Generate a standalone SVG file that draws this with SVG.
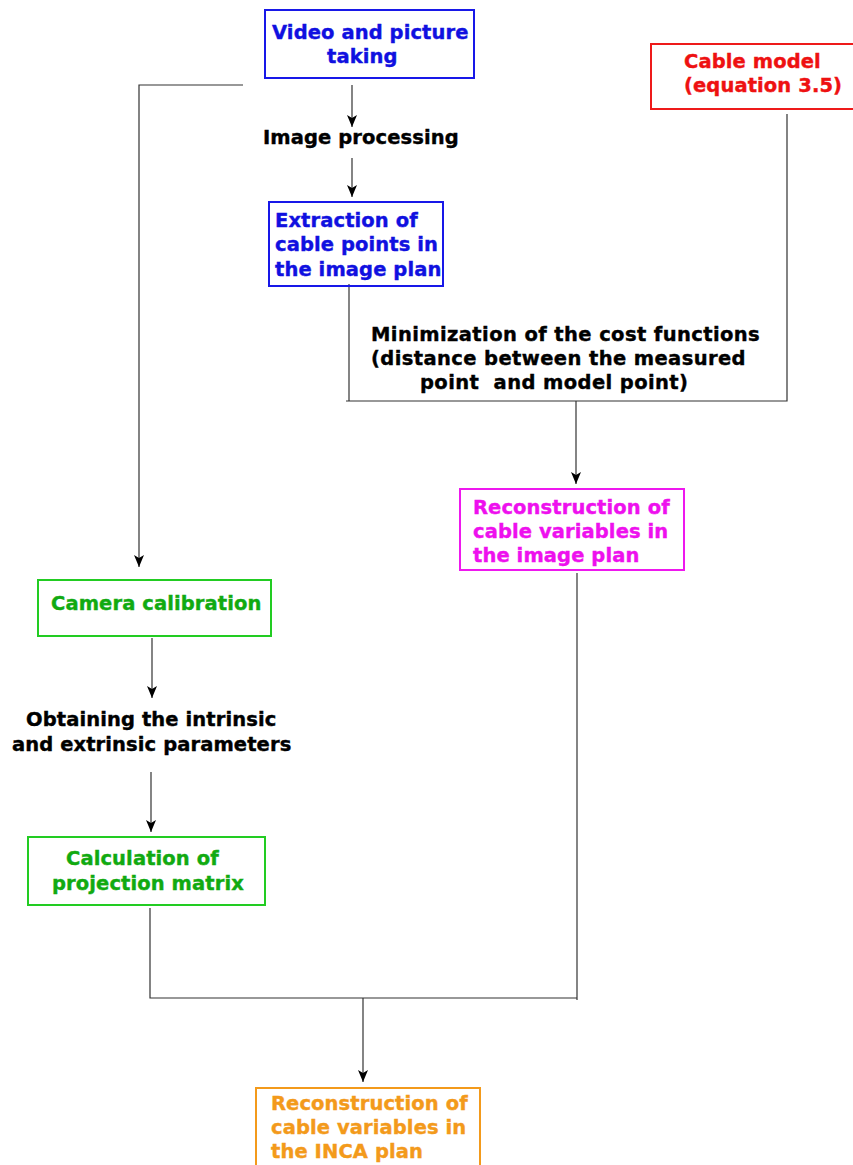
<svg xmlns="http://www.w3.org/2000/svg" width="853" height="1165" viewBox="0 0 853 1165">
<style>
text{font-family:"DejaVu Sans",sans-serif;font-weight:bold;font-size:19.5px;letter-spacing:0.1px;stroke-width:0.4px}
.box{fill:none;stroke-width:2}
.ln{fill:none;stroke:#333;stroke-width:1.2}
.blue{fill:#1010e0;stroke:#1010e0}.red{fill:#ee1111;stroke:#ee1111}.mag{fill:#ee10ee;stroke:#ee10ee}.grn{fill:#11aa11;stroke:#11aa11}.org{fill:#f39a1b;stroke:#f39a1b}.blk{fill:#000;stroke:#000}
</style>
<defs>
<marker id="arr" markerWidth="10" markerHeight="12" refX="5" refY="12" orient="0" markerUnits="userSpaceOnUse" viewBox="0 0 10 12">
<path d="M0,0 L5,3 L10,0 L5,12 Z" fill="#000"/>
</marker>
</defs>
<rect width="853" height="1165" fill="#fff"/>
<g id="connectors">
<path class="ln" d="M243,85 H139 V567" marker-end="url(#arr)"/>
<path class="ln" d="M352,85 V127" marker-end="url(#arr)"/>
<path class="ln" d="M352,158 V197" marker-end="url(#arr)"/>
<path class="ln" d="M349,284 V401"/>
<path class="ln" d="M346,401 H787 V114"/>
<path class="ln" d="M576,401 V484" marker-end="url(#arr)"/>
<path class="ln" d="M577,573 V1000"/>
<path class="ln" d="M152,638 V698" marker-end="url(#arr)"/>
<path class="ln" d="M151,772 V832" marker-end="url(#arr)"/>
<path class="ln" d="M150,908 V998 H577"/>
<path class="ln" d="M363,998 V1082" marker-end="url(#arr)"/>
</g>
<g id="video">
<rect class="box" x="265" y="10" width="209" height="68" stroke="#1818e8"/>
<text class="blue" x="272" y="39">Video and picture</text>
<text class="blue" x="327" y="63">taking</text>
</g>
<g id="cablemodel">
<rect class="box" x="651" y="44" width="210" height="65" stroke="#ee1a1a"/>
<text class="red" x="684" y="68">Cable model</text>
<text class="red" x="684" y="92">(equation 3.5)</text>
</g>
<g id="imageproc">
<text class="blk" x="263" y="144">Image processing</text>
</g>
<g id="extraction">
<rect class="box" x="269" y="202" width="174" height="84" stroke="#1818e8"/>
<text class="blue" x="275" y="227">Extraction of</text>
<text class="blue" x="275" y="251">cable points in</text>
<text class="blue" x="275" y="276">the image plan</text>
</g>
<g id="minimization">
<text class="blk" x="371" y="341" style="letter-spacing:0.4px">Minimization of the cost functions</text>
<text class="blk" x="371" y="365" style="letter-spacing:0.4px">(distance between the measured</text>
<text class="blk" x="420" y="389" xml:space="preserve" style="letter-spacing:0.4px">point  and model point)</text>
</g>
<g id="recon-image">
<rect class="box" x="460" y="489" width="224" height="81" stroke="#ee18ee"/>
<text class="mag" x="473" y="514">Reconstruction of</text>
<text class="mag" x="473" y="538">cable variables in</text>
<text class="mag" x="473" y="562">the image plan</text>
</g>
<g id="calibration">
<rect class="box" x="38" y="580" width="233" height="56" stroke="#22cc22"/>
<text class="grn" x="51" y="610">Camera calibration</text>
</g>
<g id="obtaining">
<text class="blk" x="26" y="726">Obtaining the intrinsic</text>
<text class="blk" x="12" y="751">and extrinsic parameters</text>
</g>
<g id="projection">
<rect class="box" x="28" y="837" width="237" height="68" stroke="#22cc22"/>
<text class="grn" x="66" y="865">Calculation of</text>
<text class="grn" x="52" y="890">projection matrix</text>
</g>
<g id="recon-inca">
<rect class="box" x="256" y="1088" width="224" height="90" stroke="#f39a1b"/>
<text class="org" x="271" y="1110">Reconstruction of</text>
<text class="org" x="271" y="1134">cable variables in</text>
<text class="org" x="271" y="1158">the INCA plan</text>
</g>
</svg>
